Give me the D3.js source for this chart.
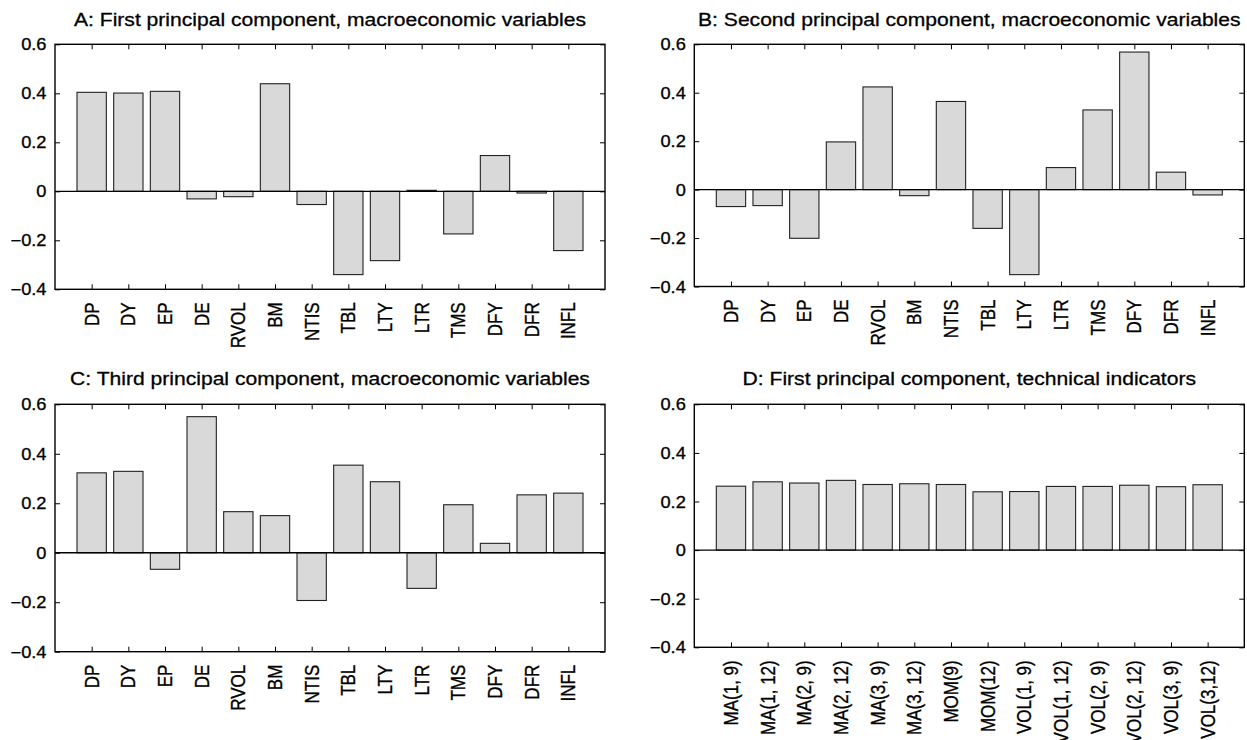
<!DOCTYPE html>
<html>
<head>
<meta charset="utf-8">
<script src="https://cdn.jsdelivr.net/npm/d3@7"></script>
<style>
  body { margin: 0; background: #fff; }
  svg text { font-family: "Liberation Sans", Arial, Helvetica, sans-serif; fill: #000; stroke: #000; stroke-width: 0.3px; }
</style>
</head>
<body>
<svg id="chart" width="1247" height="740"></svg>
<script>
// loadings
const macroVars = ["DP", "DY", "EP", "DE", "RVOL", "BM", "NTIS", "TBL", "LTY", "LTR", "TMS", "DFY", "DFR", "INFL"];
const techVars = ["MA(1, 9)", "MA(1, 12)", "MA(2, 9)", "MA(2, 12)", "MA(3, 9)", "MA(3, 12)", "MOM(9)", "MOM(12)",
                  "VOL(1, 9)", "VOL(1, 12)", "VOL(2, 9)", "VOL(2, 12)", "VOL(3, 9)", "VOL(3,12)"];

const pc1Macro = [0.404, 0.401, 0.408, -0.031, -0.022, 0.439, -0.054, -0.340, -0.283, 0.004, -0.174, 0.146, -0.007, -0.242];
const pc2Macro = [-0.070, -0.066, -0.201, 0.197, 0.424, -0.025, 0.364, -0.160, -0.351, 0.091, 0.329, 0.568, 0.072, -0.022];
const pc3Macro = [0.323, 0.329, -0.067, 0.550, 0.166, 0.150, -0.193, 0.354, 0.287, -0.144, 0.194, 0.038, 0.234, 0.241];
const pc1Tech = [0.263, 0.281, 0.276, 0.287, 0.270, 0.273, 0.270, 0.240, 0.241, 0.262, 0.262, 0.267, 0.261, 0.269];

const yTicks = [-0.4, -0.2, 0, 0.2, 0.4, 0.6];

const titles = [
  "A: First principal component, macroeconomic variables",
  "B: Second principal component, macroeconomic variables",
  "C: Third principal component, macroeconomic variables",
  "D: First principal component, technical indicators"
];

// glyphs in the original are a little wider than they are tall
const SX = 1.14;

const panels = [
  { title: titles[0], cats: macroVars, vals: pc1Macro, box: [55, 44.3, 605, 289.3], ty: 26 },
  { title: titles[1], cats: macroVars, vals: pc2Macro, box: [694.3, 44.3, 1244.3, 286.5], ty: 26 },
  { title: titles[2], cats: macroVars, vals: pc3Macro, box: [55, 404.3, 605, 651.7], ty: 385 },
  { title: titles[3], cats: techVars, vals: pc1Tech, box: [694.3, 404.3, 1244.3, 647.3], ty: 385 }
];

const svg = d3.select("#chart");

function drawPanel(p) {
  const [x0, y0, x1, y1] = p.box;
  const g = svg.append("g");

  const x = d3.scaleLinear().domain([0, 15]).range([x0, x1]);
  const y = d3.scaleLinear().domain([-0.4, 0.6]).range([y1, y0]);
  const idx = d3.range(1, p.cats.length + 1);

  // bars
  g.selectAll(".bar").data(p.vals).enter().append("rect")
    .attr("class", "bar")
    .attr("x", (d, i) => x(i + 1 - 0.4))
    .attr("width", x(0.8) - x(0))
    .attr("y", d => y(Math.max(0, d)))
    .attr("height", d => Math.abs(y(d) - y(0)))
    .attr("fill", "#d9d9d9")
    .attr("stroke", "#222")
    .attr("stroke-width", 1.1);

  // zero line
  g.append("line")
    .attr("x1", x0).attr("x2", x1)
    .attr("y1", y(0)).attr("y2", y(0))
    .attr("stroke", "#000").attr("stroke-width", 1.3);

  // axes: ticks point inward on all four sides
  const left = g.append("g").attr("transform", `translate(${x0},0)`)
    .call(d3.axisLeft(y).tickValues(yTicks).tickSize(-5)
      .tickFormat(v => v === 0 ? "0" : d3.format(".1f")(v)));
  left.selectAll("text")
    .attr("x", null).attr("dy", null)
    .attr("text-anchor", "end")
    .attr("dominant-baseline", "central")
    .attr("font-size", 16)
    .attr("transform", `translate(-8.5,0) scale(${SX},1)`);

  g.append("g").attr("transform", `translate(${x1},0)`)
    .call(d3.axisRight(y).tickValues(yTicks).tickSize(-5).tickFormat(""));

  g.append("g").attr("transform", `translate(0,${y0})`)
    .call(d3.axisTop(x).tickValues(idx).tickSize(-5).tickFormat(""));

  const bottom = g.append("g").attr("transform", `translate(0,${y1})`)
    .call(d3.axisBottom(x).tickValues(idx).tickSize(-5).tickFormat(i => p.cats[i - 1]));
  bottom.selectAll("text")
    .attr("y", null).attr("dy", null)
    .attr("text-anchor", "end")
    .attr("dominant-baseline", "central")
    .attr("font-size", 17)
    .attr("transform", `translate(0,13) scale(${SX},1) rotate(-90)`);

  g.selectAll(".domain").remove();
  g.selectAll(".tick line").attr("stroke", "#000").attr("stroke-width", 1);

  // frame
  g.append("rect")
    .attr("x", x0).attr("y", y0)
    .attr("width", x1 - x0).attr("height", y1 - y0)
    .attr("fill", "none").attr("stroke", "#000").attr("stroke-width", 1.4);

  // title
  g.append("text")
    .attr("text-anchor", "middle")
    .attr("font-size", 18.5)
    .attr("transform", `translate(${(x0 + x1) / 2},${p.ty}) scale(${SX},1)`)
    .text(p.title);
}

panels.forEach(drawPanel);
</script>
</body>
</html>
